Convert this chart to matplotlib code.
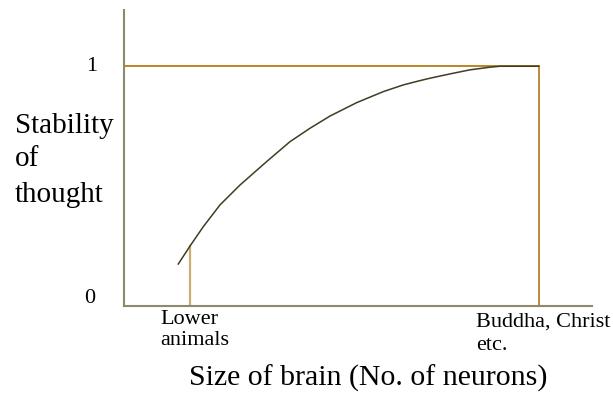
import matplotlib.pyplot as plt

plt.rcParams['font.family'] = ['Liberation Serif', 'DejaVu Serif']

# curve: stability of thought vs size of brain
brain_size = [1.305, 1.588, 1.909, 2.313, 2.795, 3.439, 4.001, 4.484, 4.966,
              5.611, 6.252, 6.735, 7.138, 7.379, 7.862, 8.344, 8.826, 9.068, 10.0]
stability = [0.174, 0.249, 0.330, 0.421, 0.504, 0.602, 0.685, 0.741, 0.792,
             0.848, 0.894, 0.922, 0.940, 0.950, 0.968, 0.985, 0.996, 1.0, 1.0]

lower_x = 1.588     # lower animals
upper_x = 10.0      # Buddha, Christ etc.
lower_y = 0.249
max_stability = 1.0

fig = plt.figure(figsize=(6.13, 3.95), dpi=100)
ax = fig.add_axes([0.2026, 0.2261, 0.9657 - 0.2026, 0.9747 - 0.2261])

ax.set_xlim(0, 11.29)
ax.set_ylim(0, 1.235)
for side in ('top', 'right'):
    ax.spines[side].set_visible(False)
for side in ('left', 'bottom'):
    ax.spines[side].set_color('#8c8a6c')
    ax.spines[side].set_linewidth(1.5)
ax.set_xticks([])
ax.set_yticks([])

ax.plot([0, upper_x], [max_stability, max_stability], color='#b47d12', lw=1.3)
ax.plot([upper_x, upper_x], [0, max_stability], color='#b4822a', lw=1.3)
ax.plot([lower_x, lower_x], [0, lower_y], color='#cfad72', lw=1.6)
ax.plot(brain_size, stability, color='#3f3d22', lw=1.1, solid_joinstyle='round')

yt = ax.get_yaxis_transform()
ax.text(-0.069, 1.0, '1', transform=yt, ha='center', va='center', fontsize=16)
ax.text(-0.073, 0.032, '0', transform=yt, ha='center', va='center', fontsize=16)

# y label, one word per line
for word, py in zip(['Stability', 'of', 'thought'], [133, 166, 201.5]):
    fig.text(15 / 613, 1 - py / 395, word, ha='left', va='baseline', fontsize=21)

fig.text(160 / 613, 1 - 310 / 395, 'Lower\nanimals', ha='left', va='top',
         fontsize=16, linespacing=1.15)
fig.text(476 / 613, 1 - 313 / 395, 'Buddha, Christ\netc.', ha='left', va='top',
         fontsize=16, linespacing=1.25)

fig.text(368 / 613, 1 - 378 / 395, 'Size of brain (No. of neurons)', ha='center',
         va='center', fontsize=21.5)

fig.savefig('out.png', dpi=100)
